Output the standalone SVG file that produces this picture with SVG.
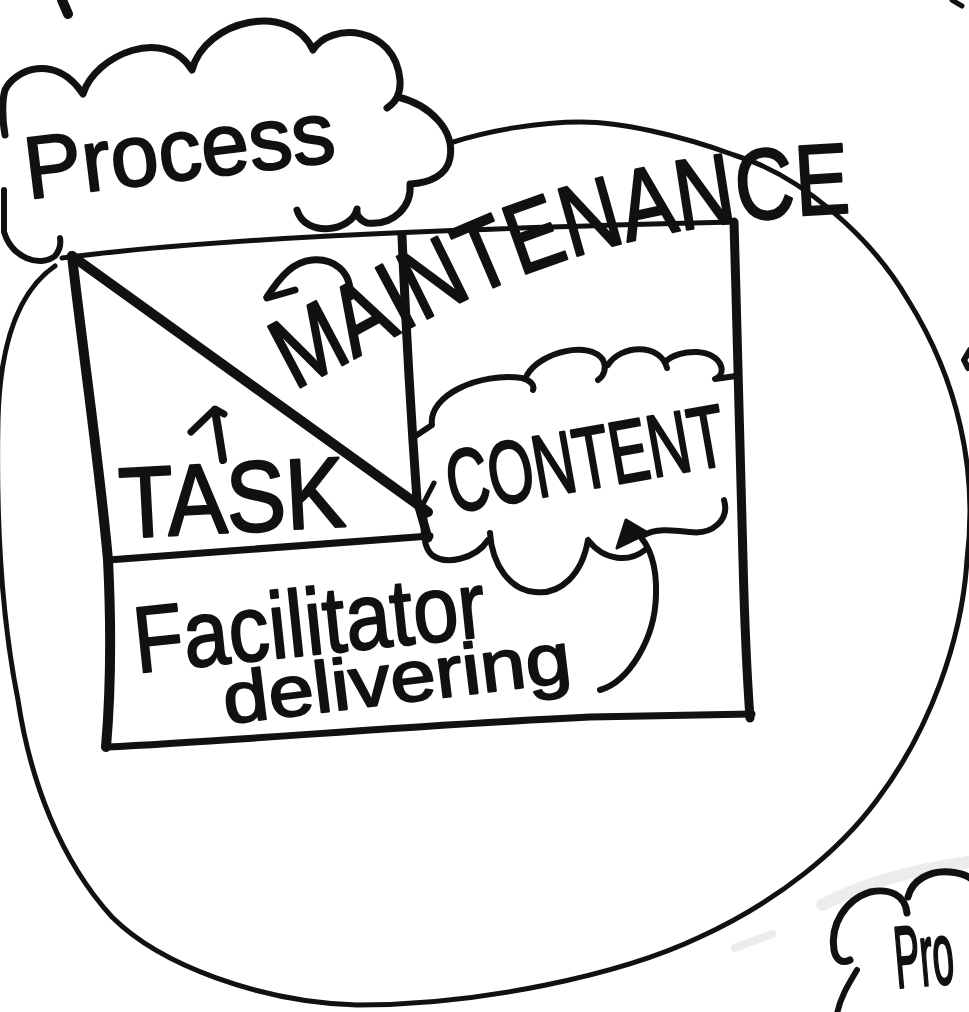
<svg xmlns="http://www.w3.org/2000/svg" width="969" height="1012" viewBox="0 0 969 1012">
  <style>
    .ink { fill: none; stroke: #111; stroke-linecap: round; stroke-linejoin: round; }
    .hand { font-family: "Liberation Sans", Arial, sans-serif; fill: #111; stroke: #111; stroke-linejoin: round; }
    .smudge { fill: none; stroke: #c8c8c8; stroke-linecap: round; opacity: 0.35; }
  </style>
  <defs>
    <path id="maint-line" d="M 294,390 C 420,330 540,222 865,212"/>
  </defs>

  <rect width="969" height="1012" fill="#ffffff"/>

  <!-- stray marks from neighbouring sketches -->
  <g id="edge-marks">
    <path class="ink" stroke-width="10" d="M 62,0 L 68,14"/>
    <path class="ink" stroke-width="5" d="M 952,0 L 962,6"/>
    <path class="ink" stroke-width="6" d="M 970,350 L 964,360 L 968,368"/>
    <path class="smudge" stroke-width="12" d="M 822,905 C 860,885 910,870 968,862"/>
    <path class="smudge" stroke-width="8" d="M 735,948 C 750,942 762,938 772,934"/>
  </g>

  <!-- big enclosing loop -->
  <g id="circle">
    <path class="ink" stroke-width="5" d="M 55,266 C 20,290 0,340 -2,420 C -4,520 2,620 18,700 C 30,780 60,860 112,917 C 160,965 260,1002 357,1005 C 480,1005 620,975 700,937 C 780,900 840,850 877,800 C 930,730 962,640 967,560 C 978,470 958,380 908,300 C 870,235 800,175 734,155 C 680,135 620,122 581,122 C 540,122 490,130 450,143"/>
  </g>

  <!-- Process cloud, top left -->
  <g id="process-cloud">
    <path class="ink" stroke-width="7" d="M 5,135 C 2,118 2,100 5,90 C 14,70 55,52 83,94 C 95,55 165,25 192,70 C 205,20 290,0 313,50 C 330,22 395,25 400,80 C 401,95 395,103 387,108"/>
    <path class="ink" stroke-width="7" d="M 398,97 C 430,105 455,130 450,158 C 447,175 430,183 410,184 C 412,205 395,226 367,223 C 360,220 356,215 357,209 C 352,232 305,238 297,210"/>
    <path class="ink" stroke-width="6" d="M 4,190 L 4,232 C 12,258 40,268 55,256 C 60,250 61,244 60,238"/>
    <text class="hand" stroke-width="2" font-size="88" x="28" y="199" textLength="312" lengthAdjust="spacingAndGlyphs" transform="rotate(-7 28 199)">Process</text>
  </g>

  <!-- box with its three regions -->
  <g id="box">
    <path class="ink" stroke-width="5" d="M 62,258 C 200,240 400,230 734,222"/>
    <path class="ink" stroke-width="10" d="M 72,256 C 84,360 100,470 108,560 C 112,640 110,700 106,747"/>
    <path class="ink" stroke-width="9" d="M 734,222 C 737,330 740,430 743,560 C 745,640 748,690 750,718"/>
    <path class="ink" stroke-width="7" d="M 106,747 C 250,740 400,726 590,717 L 752,714"/>
  </g>

  <g id="task">
    <path class="ink" stroke-width="10" d="M 72,256 L 428,512"/>
    <path class="ink" stroke-width="7" d="M 108,560 C 220,552 330,543 430,536"/>
    <text class="hand" stroke-width="2.5" font-size="100" x="121" y="538" textLength="226" lengthAdjust="spacingAndGlyphs" transform="rotate(-3 121 538)">TASK</text>
  </g>

  <g id="maintenance">
    <path class="ink" stroke-width="9" d="M 402,236 C 406,330 412,430 417,500 L 428,538"/>
    <text class="hand" stroke-width="2.5" font-size="100"><textPath href="#maint-line" textLength="592" lengthAdjust="spacingAndGlyphs">MAINTENANCE</textPath></text>
  </g>

  <g id="facilitator">
    <text class="hand" stroke-width="2" font-size="94" x="137" y="673" textLength="353" lengthAdjust="spacingAndGlyphs" transform="rotate(-6 137 673)">Facilitator</text>
    <text class="hand" stroke-width="2" font-size="72" x="226" y="724" textLength="350" lengthAdjust="spacingAndGlyphs" transform="rotate(-7 226 724)">delivering</text>
  </g>

  <!-- Content cloud inside the box -->
  <g id="content-cloud">
    <path class="ink" stroke-width="6" d="M 414,437 L 432,425 C 428,395 480,372 522,378 C 530,380 535,385 533,390"/>
    <path class="ink" stroke-width="6" d="M 527,375 C 540,352 590,340 603,360 C 607,368 604,376 598,380"/>
    <path class="ink" stroke-width="6" d="M 608,365 C 620,345 660,342 667,368"/>
    <path class="ink" stroke-width="6" d="M 665,362 C 680,348 715,348 721,366 C 723,372 720,377 715,379 L 736,376"/>
    <path class="ink" stroke-width="6" d="M 724,500 C 730,520 712,535 690,532 C 672,530 655,528 642,536"/>
    <path class="ink" stroke-width="6" d="M 645,550 C 630,562 605,562 588,540 C 582,575 560,595 535,592 C 510,590 492,565 490,533"/>
    <path class="ink" stroke-width="6" d="M 488,540 C 475,560 445,565 432,555 C 424,548 422,530 425,515"/>
    <path class="ink" stroke-width="5" d="M 434,483 L 421,508"/>
    <text class="hand" stroke-width="2.5" font-size="88" x="452" y="513" textLength="282" lengthAdjust="spacingAndGlyphs" transform="rotate(-10 452 513)">CONTENT</text>
  </g>

  <!-- arrows -->
  <g id="connectors">
    <path class="ink" stroke-width="6" d="M 600,690 C 628,682 655,640 656,595 C 657,565 650,545 636,532"/>
    <path d="M 626,520 L 648,533 L 617,548 Z" fill="#111" stroke="#111" stroke-width="3" stroke-linejoin="round"/>
    <path class="ink" stroke-width="7" d="M 350,297 C 352,270 332,258 312,260 C 294,262 282,274 267,297"/>
    <path class="ink" stroke-width="7" d="M 295,290 L 267,298"/>
    <path class="ink" stroke-width="8" d="M 223,460 L 215,410"/>
    <path class="ink" stroke-width="7" d="M 191,432 L 215,409 L 224,414"/>
  </g>

  <!-- Process cloud, bottom right -->
  <g id="process-cloud-2">
    <path class="ink" stroke-width="7" d="M 907,913 C 905,895 890,888 870,892 C 845,900 830,925 834,950 C 836,960 842,964 850,960"/>
    <path class="ink" stroke-width="6" d="M 857,970 C 848,985 840,998 837,1014"/>
    <path class="ink" stroke-width="7" d="M 908,897 C 912,880 930,870 950,872 C 960,873 966,875 970,878"/>
    <text class="hand" stroke-width="1.2" font-size="38" x="0" y="0" transform="translate(897 988) rotate(-5) scale(1 2.3)">Pro</text>
  </g>
</svg>
